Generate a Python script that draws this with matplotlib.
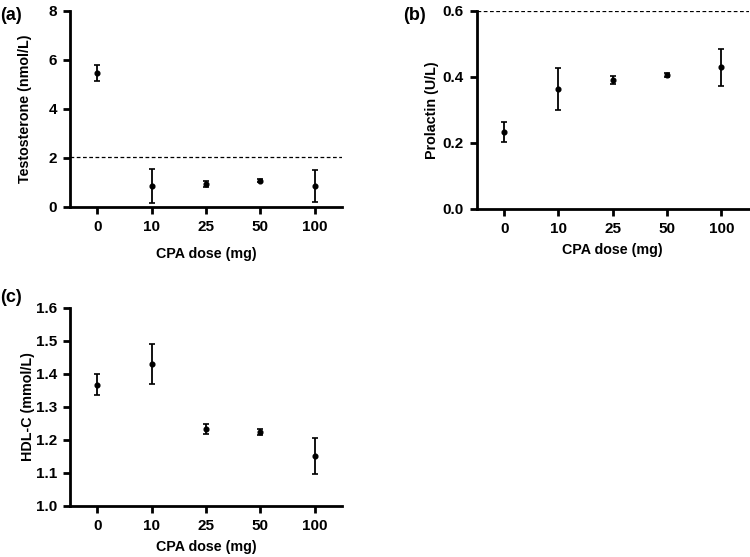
import matplotlib
matplotlib.use("Agg")
import matplotlib.pyplot as plt
import numpy as np

plt.rcParams['font.family'] = ['Liberation Sans', 'DejaVu Sans']
plt.rcParams['font.weight'] = 'bold'

doses = ['0', '10', '25', '50', '100']

testo_mean = [5.47, 0.87, 0.93, 1.07, 0.87]
testo_err = [0.34, 0.70, 0.12, 0.07, 0.65]

prl_mean = [0.234, 0.364, 0.391, 0.406, 0.430]
prl_err = [0.031, 0.064, 0.013, 0.007, 0.056]

hdl_mean = [1.368, 1.430, 1.232, 1.224, 1.152]
hdl_err = [0.032, 0.061, 0.015, 0.010, 0.055]

fig = plt.figure(figsize=(7.5, 5.57), dpi=100)


def panel(rect, mean, err, ylim, yticks, yfmt, ylabel, ycoord, xcoord, ref=None):
    ax = fig.add_axes(rect)
    x = np.arange(len(doses))
    ax.errorbar(x, mean, yerr=err, fmt='o', color='black', ms=3.4,
                elinewidth=1.3, capsize=2.5, capthick=1.2)
    if ref is not None:
        ax.axhline(ref, color='black', lw=0.9, ls=(0, (3, 2)))
    ax.set_xlim(-0.5, 4.5)
    ax.set_ylim(*ylim)
    ax.set_yticks(yticks)
    ax.set_yticklabels([yfmt.format(v) for v in yticks])
    ax.set_xticks(x)
    ax.set_xticklabels(doses)
    for s in ['top', 'right']:
        ax.spines[s].set_visible(False)
    for s in ['left', 'bottom']:
        ax.spines[s].set_linewidth(2)
    ax.tick_params(width=2, length=5, labelsize=11, pad=4.5)
    yl = ax.set_ylabel(ylabel, fontsize=10.3, fontweight='bold')
    yl.set_verticalalignment('center')
    ax.yaxis.set_label_coords(ycoord, 0.5)
    xl = ax.set_xlabel('CPA dose (mg)', fontsize=10.3, fontweight='bold')
    xl.set_verticalalignment('center')
    ax.xaxis.set_label_coords(0.5, xcoord)
    return ax


panel([0.0933, 0.6284, 0.3627, 0.3519], testo_mean, testo_err, (0, 8),
      [0, 2, 4, 6, 8], '{:.0f}', 'Testosterone (nmol/L)', -0.165, -0.240, ref=2.05)
panel([0.636, 0.6248, 0.362, 0.3555], prl_mean, prl_err, (0, 0.6),
      [0.0, 0.2, 0.4, 0.6], '{:.1f}', 'Prolactin (U/L)', -0.166, -0.207, ref=0.6)
panel([0.0933, 0.0916, 0.3627, 0.3555], hdl_mean, hdl_err, (1.0, 1.6),
      [1.0, 1.1, 1.2, 1.3, 1.4, 1.5, 1.6], '{:.1f}', 'HDL-C (mmol/L)', -0.154, -0.207)

fig.text(0.0, 0.988, '(a)', fontsize=13, fontweight='bold', va='top')
fig.text(0.538, 0.988, '(b)', fontsize=13, fontweight='bold', va='top')
fig.text(0.0, 0.482, '(c)', fontsize=13, fontweight='bold', va='top')

fig.savefig('out.png', dpi=100)
